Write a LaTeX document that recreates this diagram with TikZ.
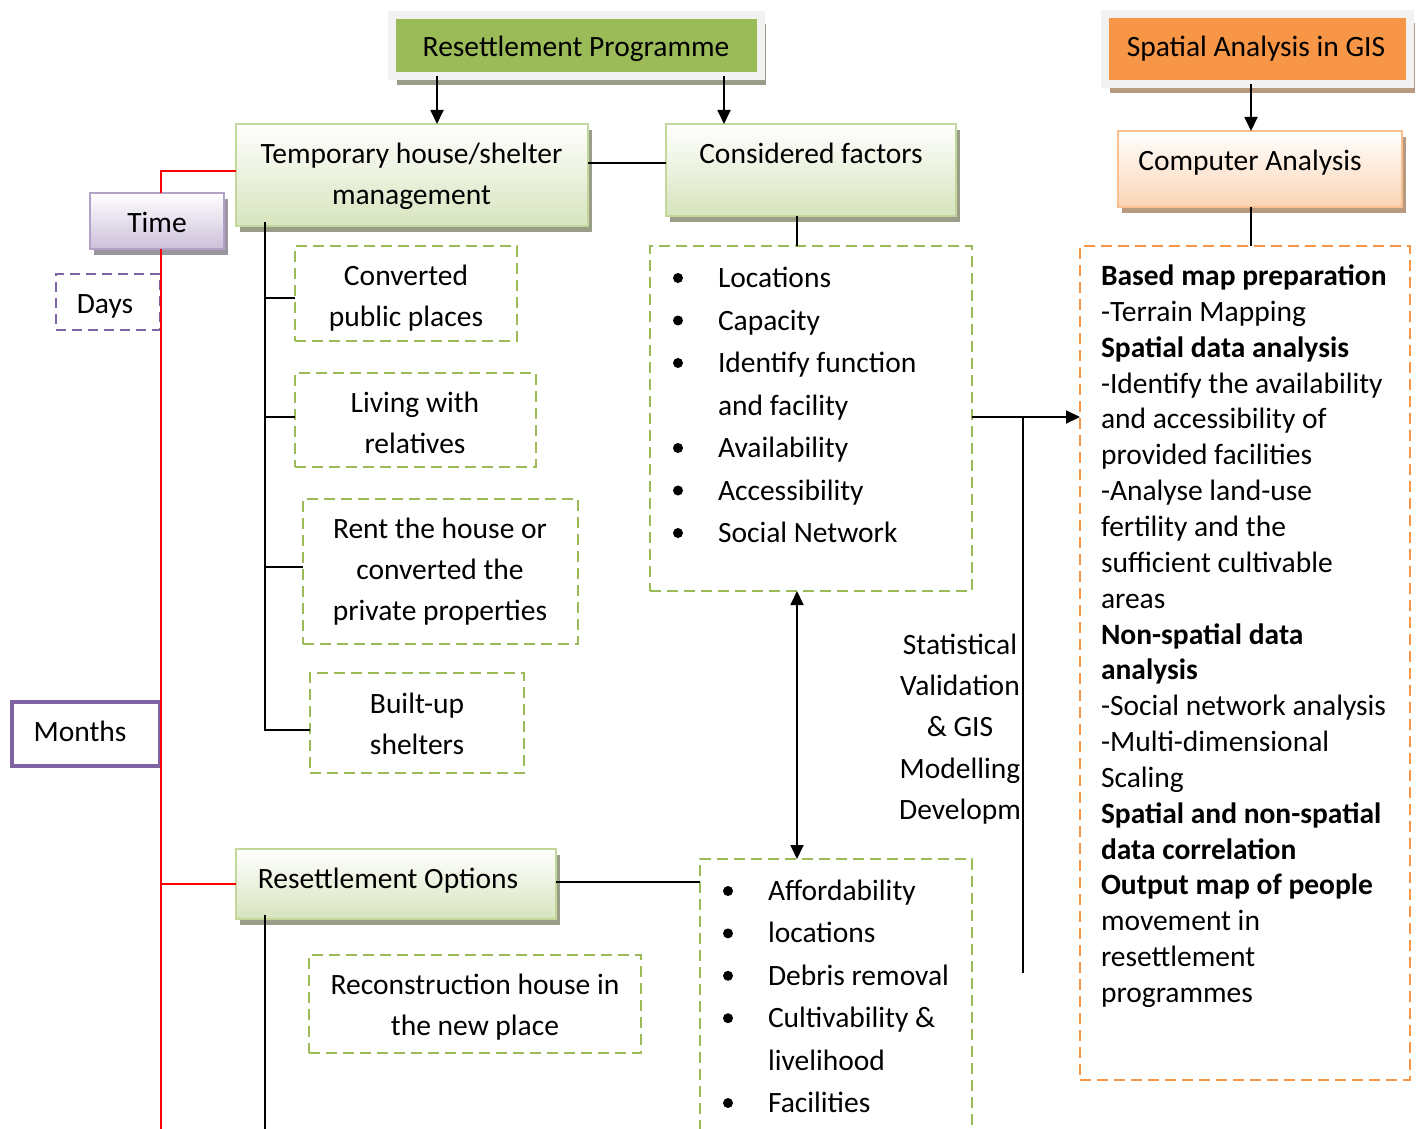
\documentclass[tikz,border=0pt]{standalone}
\usepackage{fontspec}
\setmainfont{Carlito}
\usetikzlibrary{arrows.meta,shadows}
\definecolor{ogreen}{HTML}{9BBB59}
\definecolor{lgreen}{HTML}{D7E4BD}
\definecolor{bgreen}{HTML}{C3D69B}
\definecolor{oorange}{HTML}{F79646}
\definecolor{lorange}{HTML}{FBD4B4}
\definecolor{borange}{HTML}{FAC090}
\definecolor{opurple}{HTML}{8064A2}
\definecolor{lpurple}{HTML}{CCC0DA}
\definecolor{bpurple}{HTML}{B3A2C7}
\definecolor{framegray}{HTML}{F2F2F2}
\definecolor{gshad}{HTML}{9A9E88}
\definecolor{oshad}{HTML}{B89A80}
\definecolor{pshad}{HTML}{9A96A0}
\begin{document}
\begin{tikzpicture}[x=1pt,y=-1pt,
  txt/.style={font=\fontsize{29.5}{41}\selectfont, inner sep=0pt, outer sep=0pt, text=black, anchor=base, align=center},
  basebox/.style={rectangle, inner sep=0pt, outer sep=0pt},
  framebox/.style={basebox, draw=framegray, line width=8pt},
  gradbox/.style={basebox, line width=2.5pt},
  gbox/.style={gradbox, draw=bgreen, top color=white, bottom color=lgreen,
     drop shadow={shadow xshift=3.5pt, shadow yshift=-6pt, fill=gshad, opacity=1}},
  obox/.style={gradbox, draw=borange, top color=white, bottom color=lorange,
     drop shadow={shadow xshift=3.5pt, shadow yshift=-6pt, fill=oshad, opacity=1}},
  pbox/.style={gradbox, draw=bpurple, top color=white, bottom color=lpurple,
     drop shadow={shadow xshift=3.5pt, shadow yshift=-6pt, fill=pshad, opacity=1}},
  dgbox/.style={basebox, draw=ogreen, line width=2.8pt, dash pattern=on 11pt off 6pt},
  dobox/.style={basebox, draw=oorange, line width=2.8pt, dash pattern=on 11pt off 6pt},
  bul/.style={circle, fill=black, inner sep=0pt, minimum size=10pt},
  conn/.style={draw=black, line width=1.8pt},
  redl/.style={draw=red, line width=1.8pt},
  arr/.style={conn, -{Triangle[length=14pt,width=13pt]}},
  darr/.style={conn, {Triangle[length=14pt,width=13pt]}-{Triangle[length=14pt,width=13pt]}}
]
\useasboundingbox (0,0) rectangle (1416,1129);
\clip (0,0) rectangle (1416,1129);

% lane coordinates
\coordinate (rx) at (161,0);
\coordinate (tx) at (265,0);
\coordinate (cx) at (797,0);
\coordinate (sx) at (1251,0);
\coordinate (vx) at (1023,973);
\coordinate (bot) at (0,1145);

% top framed boxes
\node[framebox, fill=ogreen, minimum width=369, minimum height=61,
  drop shadow={shadow xshift=5pt, shadow yshift=-9pt, fill=gshad, opacity=1}] (rp) at (576.5,45.5) {};
\node[txt] (rpt) at (576,56.5) {Resettlement Programme};
\node[framebox, fill=oorange, minimum width=305, minimum height=70,
  drop shadow={shadow xshift=5pt, shadow yshift=-9pt, fill=oshad, opacity=1}] (sa) at (1257.5,49) {};
\node[txt] (sat) at (1256,56.5) {Spatial Analysis in GIS};

% gradient boxes
\node[gbox, minimum width=352, minimum height=102] (tmp) at (412,175) {};
\node[txt] (tmpt) at (411.5,204.5) {Temporary house/shelter\\management};
\node[gbox, minimum width=290, minimum height=92] (cf) at (811,170) {};
\node[txt] (cft) at (811,163.5) {Considered factors};
\node[obox, minimum width=284, minimum height=76] (ca) at (1260,169) {};
\node[txt] (cat) at (1250,170.5) {Computer Analysis};
\node[pbox, minimum width=134, minimum height=56] (time) at (157,221) {};
\node[txt] (timet) at (157,232.5) {Time};
\node[gbox, minimum width=320, minimum height=70] (ro) at (396,884) {};
\node[txt] (rot) at (388,888.5) {Resettlement Options};

% purple boxes
\node[basebox, draw=opurple, line width=2.5pt, dash pattern=on 10pt off 6pt,
  minimum width=104, minimum height=56] (days) at (108,302) {};
\node[txt] (dayst) at (105,313.5) {Days};
\node[basebox, draw=opurple, line width=4.5pt, fill=white, minimum width=148, minimum height=64] (months) at (86,734) {};
\node[txt] (monthst) at (80,741.5) {Months};

% dashed green option boxes
\node[dgbox, minimum width=222, minimum height=95] (cpp) at (406,293.5) {};
\node[txt] (cppt) at (406,326.5) {Converted\\public places};
\node[dgbox, minimum width=241, minimum height=94] (lwr) at (415.5,420) {};
\node[txt] (lwrt) at (415,453.5) {Living with\\relatives};
\node[dgbox, minimum width=275, minimum height=145] (rent) at (440.5,571.5) {};
\node[txt] (rentt) at (440,620.5) {Rent the house or\\converted the\\private properties};
\node[dgbox, minimum width=214, minimum height=100] (bus) at (417,723) {};
\node[txt] (bust) at (417,754.5) {Built-up\\shelters};
\node[dgbox, minimum width=332, minimum height=98] (rec) at (475,1004) {};
\node[txt] (rect) at (475,1035.5) {Reconstruction house in\\the new place};

% list boxes
\node[dgbox, minimum width=322, minimum height=345] (cfl) at (811,418.5) {};
\node[dgbox, minimum width=272, minimum height=300] (rol) at (836,1009) {};
\node[dobox, minimum width=330, minimum height=834] (ob) at (1245,663) {};

% list 1
\foreach \t [count=\i from 0] in {Locations, Capacity, Identify function, and facility, Availability, Accessibility, Social Network}
  \node[txt, anchor=base west] (la\i) at (718,{287.5+42.5*\i}) {\t};
\foreach \i in {0,1,2,4,5,6}
  \node[bul] (ba\i) at (678,{278+42.5*\i}) {};

% list 2
\foreach \t [count=\i from 0] in {Affordability, locations, Debris removal, Cultivability \&, livelihood, Facilities}
  \node[txt, anchor=base west] (lb\i) at (768,{900.5+42.4*\i}) {\t};
\foreach \i in {0,1,2,3,5}
  \node[bul] (bb\i) at (728,{891+42.4*\i}) {};

% right box text
\foreach \t [count=\i from 0] in {\textbf{Based map preparation}, -Terrain Mapping, \textbf{Spatial data analysis}, -Identify the availability, and accessibility of, provided facilities, -Analyse land-use, fertility and the, sufficient cultivable, areas, \textbf{Non-spatial data}, \textbf{analysis}, -Social network analysis, -Multi-dimensional, Scaling, \textbf{Spatial and non-spatial}, \textbf{data correlation}, \textbf{Output map of people}, movement in, resettlement, programmes}
  \node[txt, anchor=base west] (lr\i) at (1101,{285.5+35.85*\i}) {\t};

% statistical text
\foreach \t [count=\i from 0] in {Statistical, Validation, \& GIS, Modelling, Developm}
  \node[txt] (ls\i) at (960,{654.5+41.2*\i}) {\t};

% connectors
\draw[arr] ([xshift=45pt]rp.south west) -- ([xshift=45pt]rp.south west |- tmp.north);
\draw[arr] ([xshift=-37pt]rp.south east) -- ([xshift=-37pt]rp.south east |- cf.north);
\draw[arr] (sa.south -| sx) -- (ca.north -| sx);
\draw[conn] (ca.south -| sx) -- (ob.north -| sx);
\draw[conn] ([yshift=12pt]tmp.east) -- ([yshift=12pt]tmp.east -| cf.west);
\draw[conn] (cf.south -| cx) -- (cfl.north -| cx);
\draw[darr] (cfl.south -| cx) -- (rol.north -| cx);
\draw[arr] ([yshift=1.5pt]cfl.east) -- ([yshift=1.5pt]cfl.east -| ob.west);
\draw[conn] ([yshift=1.5pt]cfl.east -| vx) -- (vx);

\draw[redl] ([yshift=4pt]tmp.west) -| (time.north -| rx);
\draw[redl] (time.south -| rx) -- (rx |- bot);
\draw[redl] (rx |- ro.west) -- (ro.west);

\draw[conn] ([yshift=4pt]tmp.south -| tx) |- ([yshift=-7pt]bus.west);
\draw[conn] ([yshift=-4.5pt]cpp.west -| tx) -- ([yshift=-4.5pt]cpp.west);
\draw[conn] ([yshift=3pt]lwr.west -| tx) -- ([yshift=3pt]lwr.west);
\draw[conn] ([yshift=4.5pt]rent.west -| tx) -- ([yshift=4.5pt]rent.west);
\draw[conn] ([yshift=4pt]ro.south -| tx) -- (tx |- bot);
\draw[conn] ([yshift=2pt]ro.east) -- ([yshift=2pt]ro.east -| rol.west);
\end{tikzpicture}
\end{document}
